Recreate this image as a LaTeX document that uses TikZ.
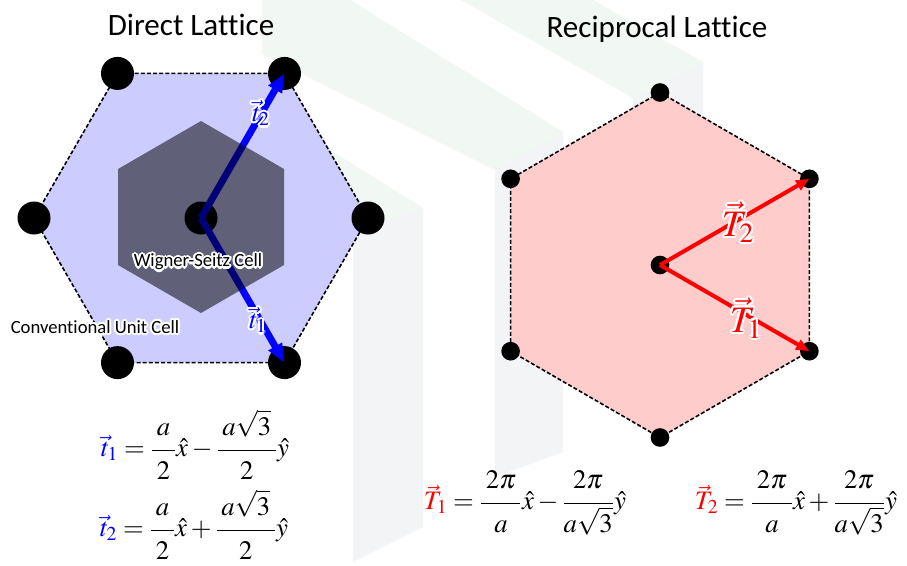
\documentclass[tikz,border=0pt]{standalone}
\usepackage{mathptmx}
\usepackage[no-math]{fontspec}
\newfontfamily\carlito[Ligatures=NoCommon]{Carlito}
\usetikzlibrary{arrows.meta}
\definecolor{lav}{RGB}{204,204,255}
\definecolor{pinkc}{RGB}{255,204,204}
\definecolor{wmgreen}{RGB}{241,247,242}
\definecolor{wmgray}{RGB}{243,244,246}
\definecolor{vblue}{RGB}{0,0,255}
\definecolor{vred}{RGB}{255,0,0}
% white halo behind a text
\newcommand\glow[1]{%
  \foreach \ga in {0,30,...,330}{%
    \makebox[0pt][l]{\hspace*{\fpeval{1.6*cos(\ga*pi/180)}pt}\raisebox{\fpeval{1.6*sin(\ga*pi/180)}pt}{\color{white}#1}}%
  }%
  #1}
\newcommand\nfrac[2]{\frac{\mkern3mu\raisebox{2.6pt}{$\displaystyle #1$}\mkern3mu}{\raisebox{-3.6pt}{$\displaystyle #2$}}}
\tikzset{
  bigdot/.style={circle, fill=black, inner sep=0pt, minimum size=24.75pt},
  smalldot/.style={circle, fill=black, inner sep=0pt, minimum size=14pt},
  cellborder/.style={line width=1.2pt, dash pattern=on 3pt off 1.6pt},
  bluevec/.style={vblue, line width=5.2pt, -{Triangle[length=14pt,width=11pt]}},
  redvec/.style={vred, line width=3pt, -{Triangle[length=10pt,width=8pt]}},
  title/.style={font=\carlito\fontsize{23.3}{28}\selectfont},
  small/.style={font=\carlito\fontsize{14}{16}\selectfont},
  eq/.style={font=\fontsize{20}{24}\selectfont, inner sep=0pt, anchor=base},
  tlab/.style={text=vblue, font=\fontsize{20}{24}\selectfont, inner sep=0pt},
  Tlab/.style={text=vred, font=\fontsize{28}{32}\selectfont, inner sep=0pt}
}
\begin{document}
\begin{tikzpicture}[x=0.75pt,y=-0.75pt]
\useasboundingbox (0,0) rectangle (907,565);
\fill[white] (0,0) rectangle (907,565);
% faint watermark blocks (top faces green, front faces grey)
\fill[wmgreen] (461,0) -- (593,0) -- (703,62) -- (633,98) -- cycle;
\fill[wmgray] (633,98) -- (703,62) -- (703,400) -- (633,430) -- cycle;
\fill[wmgreen] (262,0) -- (350,0) -- (563,132) -- (495,170) -- (300,73) -- (262,54) -- cycle;
\fill[wmgray] (495,170) -- (563,132) -- (563,452) -- (495,477) -- cycle;
\fill[wmgreen] (290,125) -- (423,208) -- (353,232) -- (270,160) -- cycle;
\fill[wmgray] (353,232) -- (423,208) -- (423,527) -- (353,562) -- cycle;

% ---------- direct lattice ----------
\coordinate (dc) at (201,218);
\fill[lav] (368,218) -- (284.5,73.4) -- (117.5,73.4) -- (34,218) -- (117.5,362.6) -- (284.5,362.6) -- cycle;
\node[bigdot] (d0) at (368,218) {};
\node[bigdot] (d1) at (284.5,73.4) {};
\node[bigdot] (d2) at (117.5,73.4) {};
\node[bigdot] (d3) at (34,218) {};
\node[bigdot] (d4) at (117.5,362.6) {};
\node[bigdot] (d5) at (284.5,362.6) {};
\node[bigdot] (dctr) at (dc) {};
\draw[cellborder] (d0.center) -- (d1.center) -- (d2.center) -- (d3.center) -- (d4.center) -- (d5.center) -- cycle;
\draw[bluevec] (dctr.center) -- (d1.center);
\draw[bluevec] (dctr.center) -- (d5.center);
% Wigner-Seitz cell (translucent)
\fill[black, opacity=0.53] (201,121) -- (284,169) -- (284,265) -- (201,313) -- (118,265) -- (118,169) -- cycle;
\node[small] (ws) at (198,262) {\glow{Wigner-Seitz Cell}};
\node[small] (cuc) at (95,327) {\glow{Conventional Unit Cell}};
\node[tlab] (lt2) at (261,113) {\glow{$\vec{t}_2$}};
\node[tlab] (lt1) at (258,320) {\glow{$\vec{t}_1$}};
\node[title] (title1) at (191,25) {Direct Lattice};

% ---------- reciprocal lattice ----------
\fill[pinkc] (660,92.5) -- (809.4,178.8) -- (809.4,351.2) -- (660,437.5) -- (510.6,351.2) -- (510.6,178.8) -- cycle;
\node[smalldot] (r0) at (660,92.5) {};
\node[smalldot] (r1) at (809.4,178.8) {};
\node[smalldot] (r2) at (809.4,351.2) {};
\node[smalldot] (r3) at (660,437.5) {};
\node[smalldot] (r4) at (510.6,351.2) {};
\node[smalldot] (r5) at (510.6,178.8) {};
\node[smalldot] (rctr) at (660,265) {};
\draw[cellborder] (r0.center) -- (r1.center) -- (r2.center) -- (r3.center) -- (r4.center) -- (r5.center) -- cycle;
\draw[redvec] (rctr.center) -- (r1.center);
\draw[redvec] (rctr.center) -- (r2.center);
\node[Tlab] (lT2) at (738,222) {\glow{$\vec{T}_2$}};
\node[Tlab] (lT1) at (746,318) {\glow{$\vec{T}_1$}};
\node[title] (title2) at (657,29) {Reciprocal Lattice};

% ---------- equations (anchored on the baseline; fraction bar ~6.7px above) ----------
\node[eq] (eq1) at (195,456.7) {$\displaystyle {\color{vblue}\vec{t}_1} = \nfrac{a}{2}\hat{x} - \nfrac{a\sqrt{3}}{2}\hat{y}$};
\node[eq] (eq2) at (194,536.7) {$\displaystyle {\color{vblue}\vec{t}_2} = \nfrac{a}{2}\hat{x} + \nfrac{a\sqrt{3}}{2}\hat{y}$};
\node[eq] (eq3) at (525,509.7) {$\displaystyle {\color{vred}\vec{T}_1} = \nfrac{2\pi}{a}\hat{x} - \nfrac{2\pi}{a\sqrt{3}}\hat{y}$};
\node[eq] (eq4) at (796,509.7) {$\displaystyle {\color{vred}\vec{T}_2} = \nfrac{2\pi}{a}\hat{x} + \nfrac{2\pi}{a\sqrt{3}}\hat{y}$};
\end{tikzpicture}
\end{document}
